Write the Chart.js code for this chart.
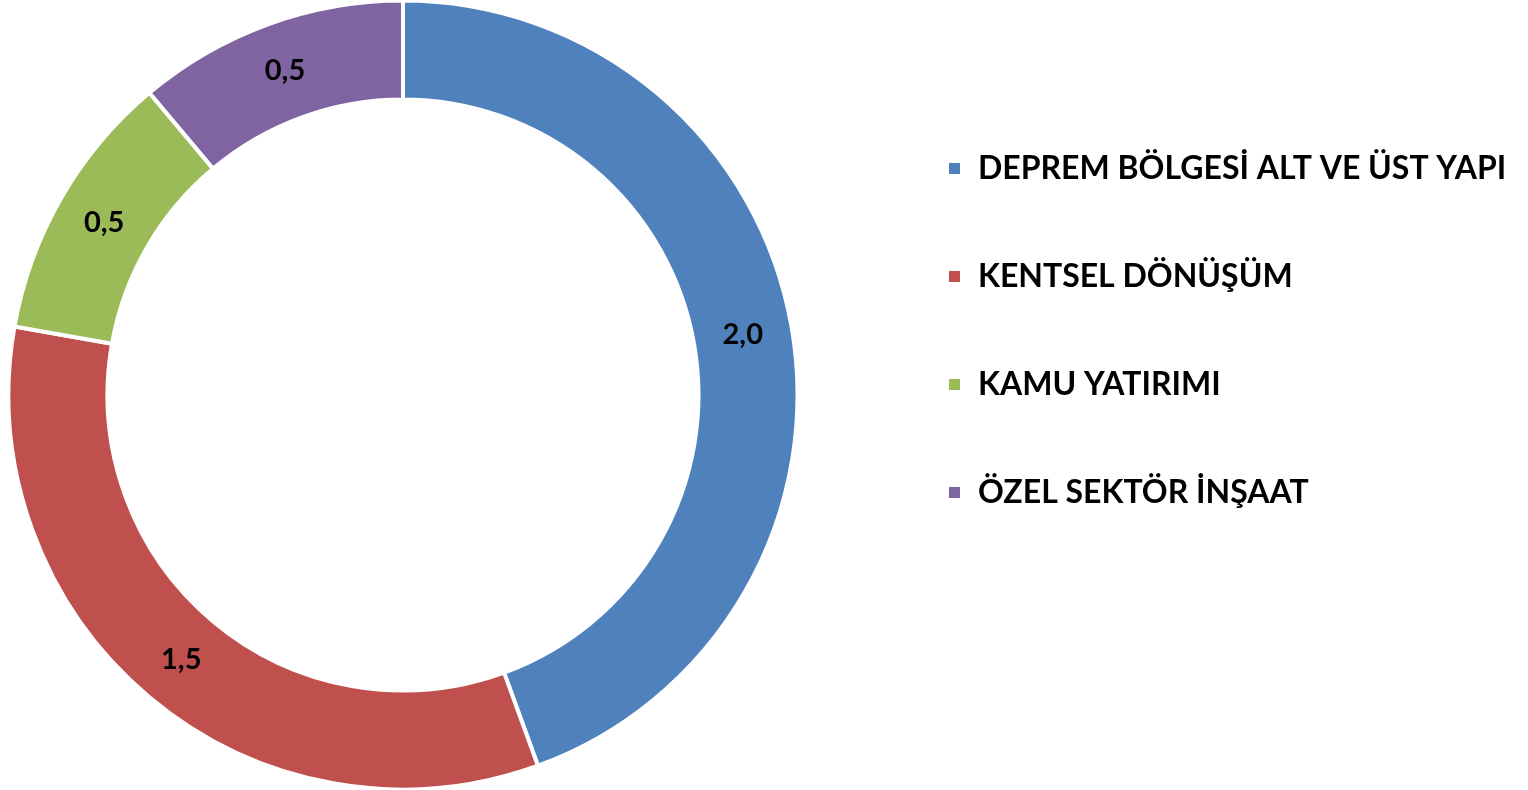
<!DOCTYPE html>
<html>
<head>
<meta charset="utf-8">
<script src="https://cdn.jsdelivr.net/npm/chart.js@4"></script>
<style>
  html, body { margin: 0; padding: 0; background: #fff; overflow: hidden; }
  #wrap { position: relative; width: 1528px; height: 790px; overflow: hidden; }
  #ringChart { position: absolute; top: 0; }
</style>
</head>
<body>
<div id="wrap"><canvas id="ringChart"></canvas></div>
<script>
const categories = ['DEPREM BÖLGESİ ALT VE ÜST YAPI', 'KENTSEL DÖNÜŞÜM', 'KAMU YATIRIMI', 'ÖZEL SEKTÖR İNŞAAT'];
const shares = [2.0, 1.5, 0.5, 0.5];
const sliceColors = ['#4F81BD', '#C0504D', '#9BBB59', '#8064A2'];

const fontFamily = 'Lato, "Open Sans", sans-serif';
const legendSize = 32;
const legendPad = 76;
const boxSize = 15;

// the ring sits flush left, so the canvas is widened and slid left
// until the ring centre and the legend column both land in place
const ringCenterX = 403;
const legendBoxX = 947;
const canvasShift = (legendBoxX - legendPad) - 2 * ringCenterX;
const canvas = document.querySelector('#ringChart');
canvas.width = 1528 + canvasShift;
canvas.height = 790;
canvas.style.left = (-canvasShift) + 'px';

const measure = document.createElement('canvas').getContext('2d');
measure.font = `bold ${legendSize}px ${fontFamily}`;
const longest = Math.max(...categories.map(c => measure.measureText(c).width));
const legendWidth = legendPad + boxSize + legendSize / 2 + longest + 10;
const padRight = canvas.width - (legendBoxX - legendPad + canvasShift) - legendWidth;

const sliceLabels = {
    id: 'sliceLabels',
    afterDatasetsDraw(chart) {
        const ctx = chart.ctx;
        const meta = chart.getDatasetMeta(0);
        ctx.save();
        ctx.font = `bold 29px ${fontFamily}`;
        ctx.fillStyle = '#000';
        ctx.textAlign = 'center';
        ctx.textBaseline = 'middle';
        meta.data.forEach((arc, i) => {
            const pos = arc.tooltipPosition();
            const text = shares[i].toFixed(1).replace('.', ',');
            ctx.fillText(text, pos.x, pos.y);
        });
        ctx.restore();
    }
};

new Chart(canvas.getContext('2d'), {
    type: 'doughnut',
    data: {
        labels: categories,
        datasets: [{
            data: shares,
            backgroundColor: sliceColors,
            borderColor: '#fff',
            borderWidth: 4,
            radius: 394.5,
            cutout: '74.9%'
        }]
    },
    options: {
        responsive: false,
        animation: false,
        layout: { padding: { left: 0, right: padRight, top: 0, bottom: 0 } },
        plugins: {
            tooltip: { enabled: false },
            legend: {
                position: 'right',
                align: 'start',
                title: { display: true, text: '', font: { size: 10, lineHeight: 1 }, padding: { top: 66.5, bottom: 0 } },
                labels: {
                    color: '#000',
                    boxWidth: boxSize,
                    boxHeight: boxSize,
                    padding: legendPad,
                    font: { family: fontFamily, size: legendSize, weight: 'bold' }
                }
            }
        }
    },
    plugins: [sliceLabels]
});
</script>
</body>
</html>
